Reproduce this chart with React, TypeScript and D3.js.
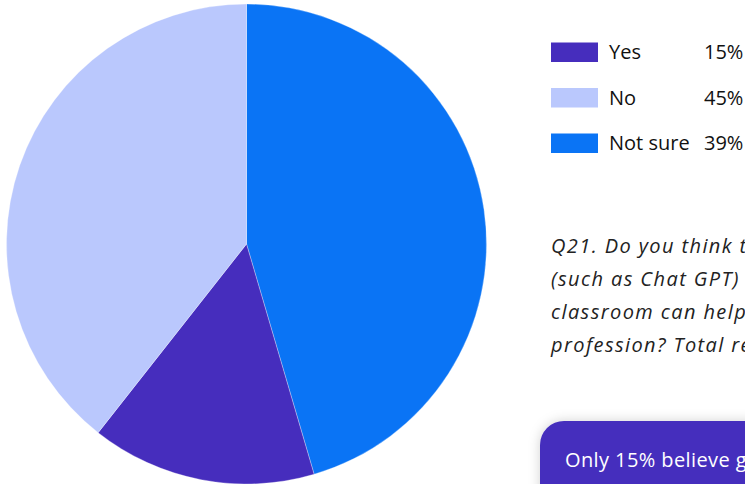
import React from "react";
import * as d3 from "d3";

const sliceCategories = ["Not sure", "Yes", "No"];
const sliceValues = [45, 15, 39];
const legendLabels = ["Yes", "No", "Not sure"];
const legendValues = ["15%", "45%", "39%"];
const colors: Record<string, string> = {
  Yes: "#462dbd",
  No: "#bac8fd",
  "Not sure": "#0a74f5",
};
const questionLines = [
  "Q21. Do you think teachers using AI tools",
  "(such as Chat GPT) in the",
  "classroom can help the teaching",
  "profession? Total respondents: 1,000",
];
const calloutText = "Only 15% believe generative AI will help";

export default function App() {
  const W = 745, H = 484;
  const cx = 246.5, cy = 244, r = 240;
  const data = sliceCategories.map((c, i) => ({ c, v: sliceValues[i] }));
  const pie = d3.pie<{ c: string; v: number }>().value(d => d.v).sort(null);
  const arc = d3.arc<d3.PieArcDatum<{ c: string; v: number }>>().innerRadius(0).outerRadius(r);
  const arcs = pie(data);
  const font = "'Open Sans', 'Noto Sans', sans-serif";
  const rowY = d3.scaleLinear().domain([0, 1]).range([52, 97.5]);
  return (
    <div style={{ position: "absolute", left: 0, top: 0, width: W, height: H, overflow: "hidden", background: "#fff" }}>
      <svg width={W} height={H} style={{ display: "block" }}>
        <defs>
          <filter id="sh" x="-20%" y="-50%" width="140%" height="200%">
            <feDropShadow dx="0" dy="0" stdDeviation="6" floodColor="#000" floodOpacity="0.18" />
          </filter>
        </defs>
        <g transform={`translate(${cx},${cy})`}>
          {arcs.map((a, i) => (
            <path key={i} d={arc(a) || ""} fill={colors[a.data.c]} stroke="#ffffff" strokeOpacity={0.5} strokeWidth={0.6} />
          ))}
        </g>
        {legendLabels.map((l, i) => {
          const y = rowY(i);
          return (
            <g key={l} fontFamily={font} fontSize={20} fill="#111">
              <rect x={551} y={y - 9.5} width={47} height={19.5} fill={colors[l]} />
              <text x={609} y={y + 7}>{l}</text>
              <text x={704} y={y + 7}>{legendValues[i]}</text>
            </g>
          );
        })}
        <g fontFamily={font} fontSize={20} fontStyle="italic" fill="#222" letterSpacing={1.4}>
          {questionLines.map((t, i) => (
            <text key={i} x={551} y={253 + i * 33}>{t}</text>
          ))}
        </g>
        <rect x={540} y={421} width={260} height={120} rx={24} ry={24} fill="#452fbd" filter="url(#sh)" />
        <text x={565} y={467} fontFamily={font} fontSize={20} fill="#ffffff" letterSpacing={0.4}>{calloutText}</text>
      </svg>
    </div>
  );
}
